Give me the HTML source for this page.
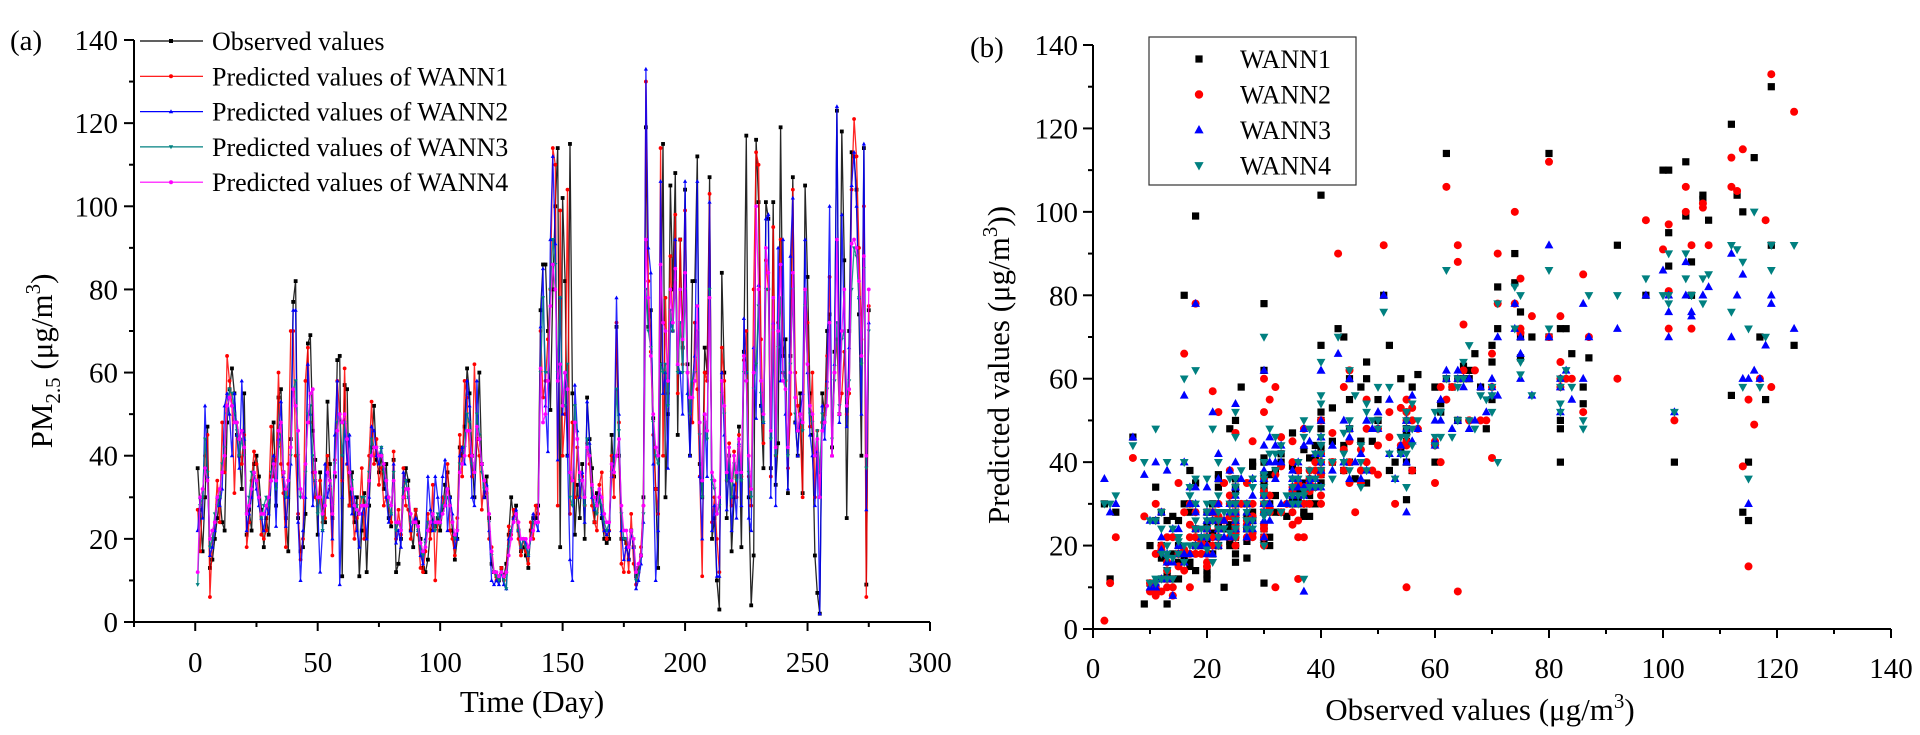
<!DOCTYPE html>
<html><head><meta charset="utf-8">
<style>
html,body{margin:0;padding:0;background:#fff;}
svg{display:block;font-family:"Liberation Serif",serif;}
</style></head>
<body>
<svg id="c" width="1920" height="735" viewBox="0 0 1920 735" xmlns="http://www.w3.org/2000/svg"></svg>
<script>
const obs=[37,27,17,30,47,13,15,20,25,30,24,22,48,56,61,55,45,40,32,55,
21,27,22,38,40,35,27,18,25,21,35,48,28,54,56,36,25,17,44,77,
82,25,17,18,26,67,69,46,39,21,36,27,24,53,38,25,35,63,64,11,
57,56,28,36,24,30,11,22,31,12,28,42,52,39,36,40,32,38,25,23,
39,12,14,20,30,37,34,22,18,27,24,20,13,12,15,22,25,23,25,22,
27,33,36,30,22,15,20,42,40,47,61,55,40,30,44,60,38,30,35,25,
14,12,11,10,13,11,14,21,30,25,28,22,17,18,16,13,22,25,25,28,
75,86,86,70,51,80,100,114,18,102,82,40,115,55,21,33,25,38,20,54,
44,37,24,31,30,25,20,19,20,45,35,71,40,20,20,19,15,22,18,11,
13,16,30,119,71,75,49,32,13,62,115,30,50,105,80,108,45,92,66,104,
62,40,82,82,112,38,30,66,60,107,20,25,10,3,84,60,25,40,17,30,
35,47,18,65,117,30,4,16,116,101,52,37,101,97,37,101,33,43,119,64,
68,31,64,107,48,40,55,31,105,83,55,45,16,7,2,55,50,70,74,42,
65,123,50,118,87,25,70,113,112,104,74,40,114,9,75];
const w1=[27,17,30,40,45,6,20,24,34,24,48,36,64,58,52,31,48,44,38,45,
18,24,34,41,38,30,21,20,22,30,47,35,39,60,38,31,18,38,70,70,
40,26,15,20,58,66,48,36,30,28,34,24,25,40,32,16,39,58,50,34,
61,38,28,30,20,25,26,37,20,28,40,53,38,44,33,37,28,30,28,24,
41,20,27,21,37,28,27,20,24,27,21,13,12,17,26,20,33,10,24,25,
30,28,38,22,20,16,25,45,35,58,54,40,35,62,44,40,27,34,31,20,
18,12,10,11,13,10,12,23,21,27,26,20,16,20,17,14,24,20,28,26,
70,54,58,68,80,114,110,28,99,40,50,104,26,48,30,42,30,35,28,43,
38,28,24,22,33,36,22,20,22,40,30,72,48,14,12,20,12,26,14,9,
12,18,28,130,82,65,45,32,26,114,40,78,55,88,70,98,55,92,62,99,
60,50,48,72,56,35,11,60,58,103,24,30,20,12,66,58,34,43,28,41,
30,45,35,63,70,35,28,80,113,110,68,43,87,80,35,95,40,72,92,60,
58,37,50,104,60,52,47,30,80,72,47,60,30,46,30,48,50,64,83,40,
60,68,50,55,65,50,55,104,121,112,90,68,100,6,76];
const w2=[22,30,25,52,35,16,18,22,30,28,32,52,55,50,40,55,45,37,58,44,
22,26,30,36,32,28,25,22,28,26,34,40,23,44,53,35,23,30,38,75,
75,24,10,22,30,62,50,28,34,28,12,22,38,30,33,20,45,58,9,30,
48,38,45,26,30,22,18,26,28,20,30,47,46,40,38,42,37,30,24,26,
38,19,22,18,36,34,30,22,24,25,22,16,14,20,35,27,22,35,30,24,
35,39,22,30,26,18,20,40,42,38,58,52,30,28,58,44,38,30,33,22,
10,9,10,9,12,9,8,20,22,25,27,22,18,20,19,16,20,26,24,22,
71,85,52,41,92,112,91,39,78,50,60,40,15,10,57,46,30,36,24,53,
43,30,27,29,32,26,22,21,22,35,40,78,50,22,15,18,15,22,18,8,
10,14,24,133,90,84,38,10,22,106,55,60,37,72,70,92,62,60,50,106,
55,40,58,64,106,35,20,50,35,101,22,28,11,11,60,45,27,38,22,33,
25,43,28,73,60,25,22,66,49,81,52,48,97,98,30,72,28,90,58,92,
50,32,88,102,48,40,50,55,92,60,45,40,28,41,2,52,44,58,100,40,
62,124,48,98,70,47,66,105,113,100,78,50,115,27,72];
const w3=[9,28,30,44,36,18,20,26,28,30,38,42,50,56,55,50,46,40,44,40,
26,30,36,35,34,30,25,28,30,28,36,38,32,42,45,36,30,34,40,56,
58,40,30,30,36,50,52,40,34,26,30,22,30,36,34,28,38,48,50,40,
48,45,36,34,28,28,26,30,30,28,36,44,42,42,40,42,36,34,28,26,
36,22,24,22,32,34,30,24,24,24,22,18,16,19,24,24,26,22,26,24,
28,30,30,28,24,20,22,38,38,42,50,48,38,36,50,45,36,32,32,24,
16,12,11,10,12,10,8,18,22,24,26,22,18,20,18,16,20,24,24,24,
60,78,60,60,80,92,86,60,78,52,52,62,30,28,52,44,34,34,28,44,
40,32,28,26,30,28,24,22,24,36,36,56,46,26,20,20,18,22,20,10,
12,16,26,80,70,66,48,40,38,62,60,62,52,75,70,82,60,72,60,80,
60,50,58,60,70,45,30,48,44,80,34,32,26,28,55,50,34,40,30,38,
34,42,34,60,60,36,30,56,62,76,55,48,80,80,44,70,40,66,78,60,
58,40,62,80,50,46,50,46,76,62,50,48,40,46,36,50,48,56,72,44,
58,72,52,68,70,54,58,80,90,88,78,62,85,37,70];
const w4=[12,30,32,37,34,20,22,24,30,32,36,40,52,54,52,48,48,44,46,42,
26,28,32,36,34,30,26,26,28,30,34,38,34,46,48,36,32,34,42,56,
52,46,32,30,38,48,55,56,36,30,30,26,28,36,34,26,36,46,50,48,
50,44,36,32,28,27,26,28,28,28,34,40,42,42,40,40,38,34,30,28,
34,24,24,22,30,32,32,26,24,24,23,19,17,18,22,24,26,24,24,24,
26,28,32,28,24,21,22,36,38,40,46,46,40,36,47,44,38,34,32,26,
17,12,12,11,12,11,12,16,20,24,26,24,20,20,20,18,20,22,24,24,
61,48,50,58,76,86,80,58,62,52,60,56,36,34,48,44,36,34,30,42,
40,33,30,28,32,30,26,24,24,38,36,40,44,28,22,22,18,22,20,12,
14,16,28,92,78,64,50,42,40,86,72,70,58,80,72,85,62,80,68,84,
60,54,54,58,76,48,34,50,46,78,36,34,26,30,58,52,36,42,34,40,
36,44,36,64,58,40,32,60,100,80,58,50,90,84,46,78,42,70,86,58,
56,42,60,84,54,46,50,48,80,62,52,50,40,44,30,46,48,52,72,40,
60,92,50,70,80,52,56,91,92,90,82,64,88,40,80];
const xTicksA=[0,50,100,150,200,250,300];
const yTicks=[0,20,40,60,80,100,120,140];
const xTicksB=[0,20,40,60,80,100,120,140];
const legendA=["Observed values","Predicted values of WANN1","Predicted values of WANN2","Predicted values of WANN3","Predicted values of WANN4"];
const legendB=["WANN1","WANN2","WANN3","WANN4"];

const NS="http://www.w3.org/2000/svg";
const svg=document.getElementById('c');
function mk(tag,attrs,parent,text){const e=document.createElementNS(NS,tag);for(const k in attrs)e.setAttribute(k,attrs[k]);if(text!==undefined)e.textContent=text;(parent||svg).appendChild(e);return e;}

const ax=v=>134+(v+25)*(930-134)/325;
const ay=v=>622-v*(622-40)/140;
const bx=v=>1093+v*(1891-1093)/140;
const by=v=>629-v*(629-45)/140;

function marker(g,shape,x,y,s,col){
  let e;
  if(shape==='sq'){e=mk('rect',{x:x-s,y:y-s,width:2*s,height:2*s,fill:col},g);}
  else if(shape==='ci'){e=mk('circle',{cx:x,cy:y,r:s,fill:col},g);}
  else if(shape==='up'){e=mk('polygon',{points:`${x},${y-s*1.2} ${x-s*1.1},${y+s*0.8} ${x+s*1.1},${y+s*0.8}`,fill:col},g);}
  else {e=mk('polygon',{points:`${x},${y+s*1.2} ${x-s*1.1},${y-s*0.8} ${x+s*1.1},${y-s*0.8}`,fill:col},g);}
  return e;
}

const gA=mk('g',{});


const seriesA=[obs,w1,w2,w3,w4];
const colA=['#000000','#ff0000','#0000ff','#008080','#ff00ff'];
const shpA=['sq','ci','up','dn','ci'];
const namesA=['observed-line','wann1-line','wann2-line','wann3-line','wann4-line'];
seriesA.forEach((s,k)=>{
  const g=mk('g',{},gA);
  
  
  const pts=s.map((v,i)=>ax(i+1).toFixed(1)+','+ay(v).toFixed(1)).join(' ');
  mk('polyline',{points:pts,fill:'none',stroke:colA[k],'stroke-width':1.3,'stroke-opacity':0.85},g);
  s.forEach((v,i)=>{marker(g,shpA[k],ax(i+1),ay(v),1.9,colA[k]);});
});
const axA=mk('g',{stroke:'#000','stroke-width':2,fill:'none'},gA);


mk('line',{x1:134,y1:ay(0),x2:930,y2:ay(0)},axA);
mk('line',{x1:134,y1:ay(0),x2:134,y2:ay(140)},axA);
for(let v=-25;v<=300;v+=25){const big=v%50===0;mk('line',{x1:ax(v),y1:ay(0),x2:ax(v),y2:ay(0)+(big?9:5)},axA);}
for(let v=0;v<=140;v+=10){const big=v%20===0;mk('line',{x1:134,y1:ay(v),x2:134-(big?10:5),y2:ay(v)},axA);}
xTicksA.forEach(v=>{const t=mk('text',{x:ax(v),y:672,'font-size':29,'text-anchor':'middle'},gA,String(v));});
yTicks.forEach(v=>{const t=mk('text',{x:118,y:ay(v)+10,'font-size':29,'text-anchor':'end'},gA,String(v));});
let t=mk('text',{x:10,y:50,'font-size':29},gA,'(a)');
t=mk('text',{x:532,y:712,'font-size':31,'text-anchor':'middle'},gA,'Time (Day)');
t=mk('text',{transform:'translate(52,361) rotate(-90)','font-size':31,'text-anchor':'middle'},gA);

t.innerHTML='PM<tspan font-size="21" dy="8">2.5</tspan><tspan dy="-8"> (μg/m</tspan><tspan font-size="21" dy="-12">3</tspan><tspan dy="12">)</tspan>';
legendA.forEach((s,k)=>{
  const y=41+k*35.3;
  const g=mk('g',{},gA);
  
  
  mk('line',{x1:140,y1:y,x2:203,y2:y,stroke:colA[k],'stroke-width':1.2},g);
  marker(g,shpA[k],171,y,2,colA[k]);
  mk('text',{x:212,y:y+9,'font-size':26},g,s);
});

const gB=mk('g',{});


const seriesB=[w1,w2,w3,w4];
const colB=['#000000','#ff0000','#0000ff','#008080'];
const shpB=['sq','ci','up','dn'];
const namesB=['wann1-points','wann2-points','wann3-points','wann4-points'];
seriesB.forEach((s,k)=>{
  const g=mk('g',{},gB);
  
  
  s.forEach((v,i)=>{if(obs[i]!==undefined)marker(g,shpB[k],bx(obs[i]),by(v),shpB[k]==='sq'?3.6:4,colB[k]);});
});
const axB=mk('g',{stroke:'#000','stroke-width':2,fill:'none'},gB);


mk('line',{x1:1093,y1:by(0),x2:1891,y2:by(0)},axB);
mk('line',{x1:1093,y1:by(0),x2:1093,y2:by(140)},axB);
for(let v=0;v<=140;v+=10){const big=v%20===0;mk('line',{x1:bx(v),y1:by(0),x2:bx(v),y2:by(0)+(big?9:5)},axB);}
for(let v=0;v<=140;v+=10){const big=v%20===0;mk('line',{x1:1093,y1:by(v),x2:1093-(big?10:5),y2:by(v)},axB);}
xTicksB.forEach(v=>{const t=mk('text',{x:bx(v),y:678,'font-size':29,'text-anchor':'middle'},gB,String(v));});
yTicks.forEach(v=>{const t=mk('text',{x:1078,y:by(v)+10,'font-size':29,'text-anchor':'end'},gB,String(v));});
t=mk('text',{x:970,y:57,'font-size':29},gB,'(b)');
t=mk('text',{x:1480,y:720,'font-size':31,'text-anchor':'middle'},gB);

t.innerHTML='Observed values (μg/m<tspan font-size="21" dy="-12">3</tspan><tspan dy="12">)</tspan>';
t=mk('text',{transform:'translate(1009,365) rotate(-90)','font-size':31,'text-anchor':'middle'},gB);

t.innerHTML='Predicted values (μg/m<tspan font-size="21" dy="-12">3</tspan><tspan dy="12">))</tspan>';
const lg=mk('g',{},gB);


mk('rect',{x:1149,y:37,width:207,height:148,fill:'#fff',stroke:'#333','stroke-width':1.2},lg);
legendB.forEach((s,k)=>{
  const y=59+k*35.5;
  const g=mk('g',{},lg);
  
  
  marker(g,shpB[k],1199,y,shpB[k]==='sq'?3.6:4.2,colB[k]);
  mk('text',{x:1240,y:y+9,'font-size':26},g,s);
});
</script>
</body></html>
